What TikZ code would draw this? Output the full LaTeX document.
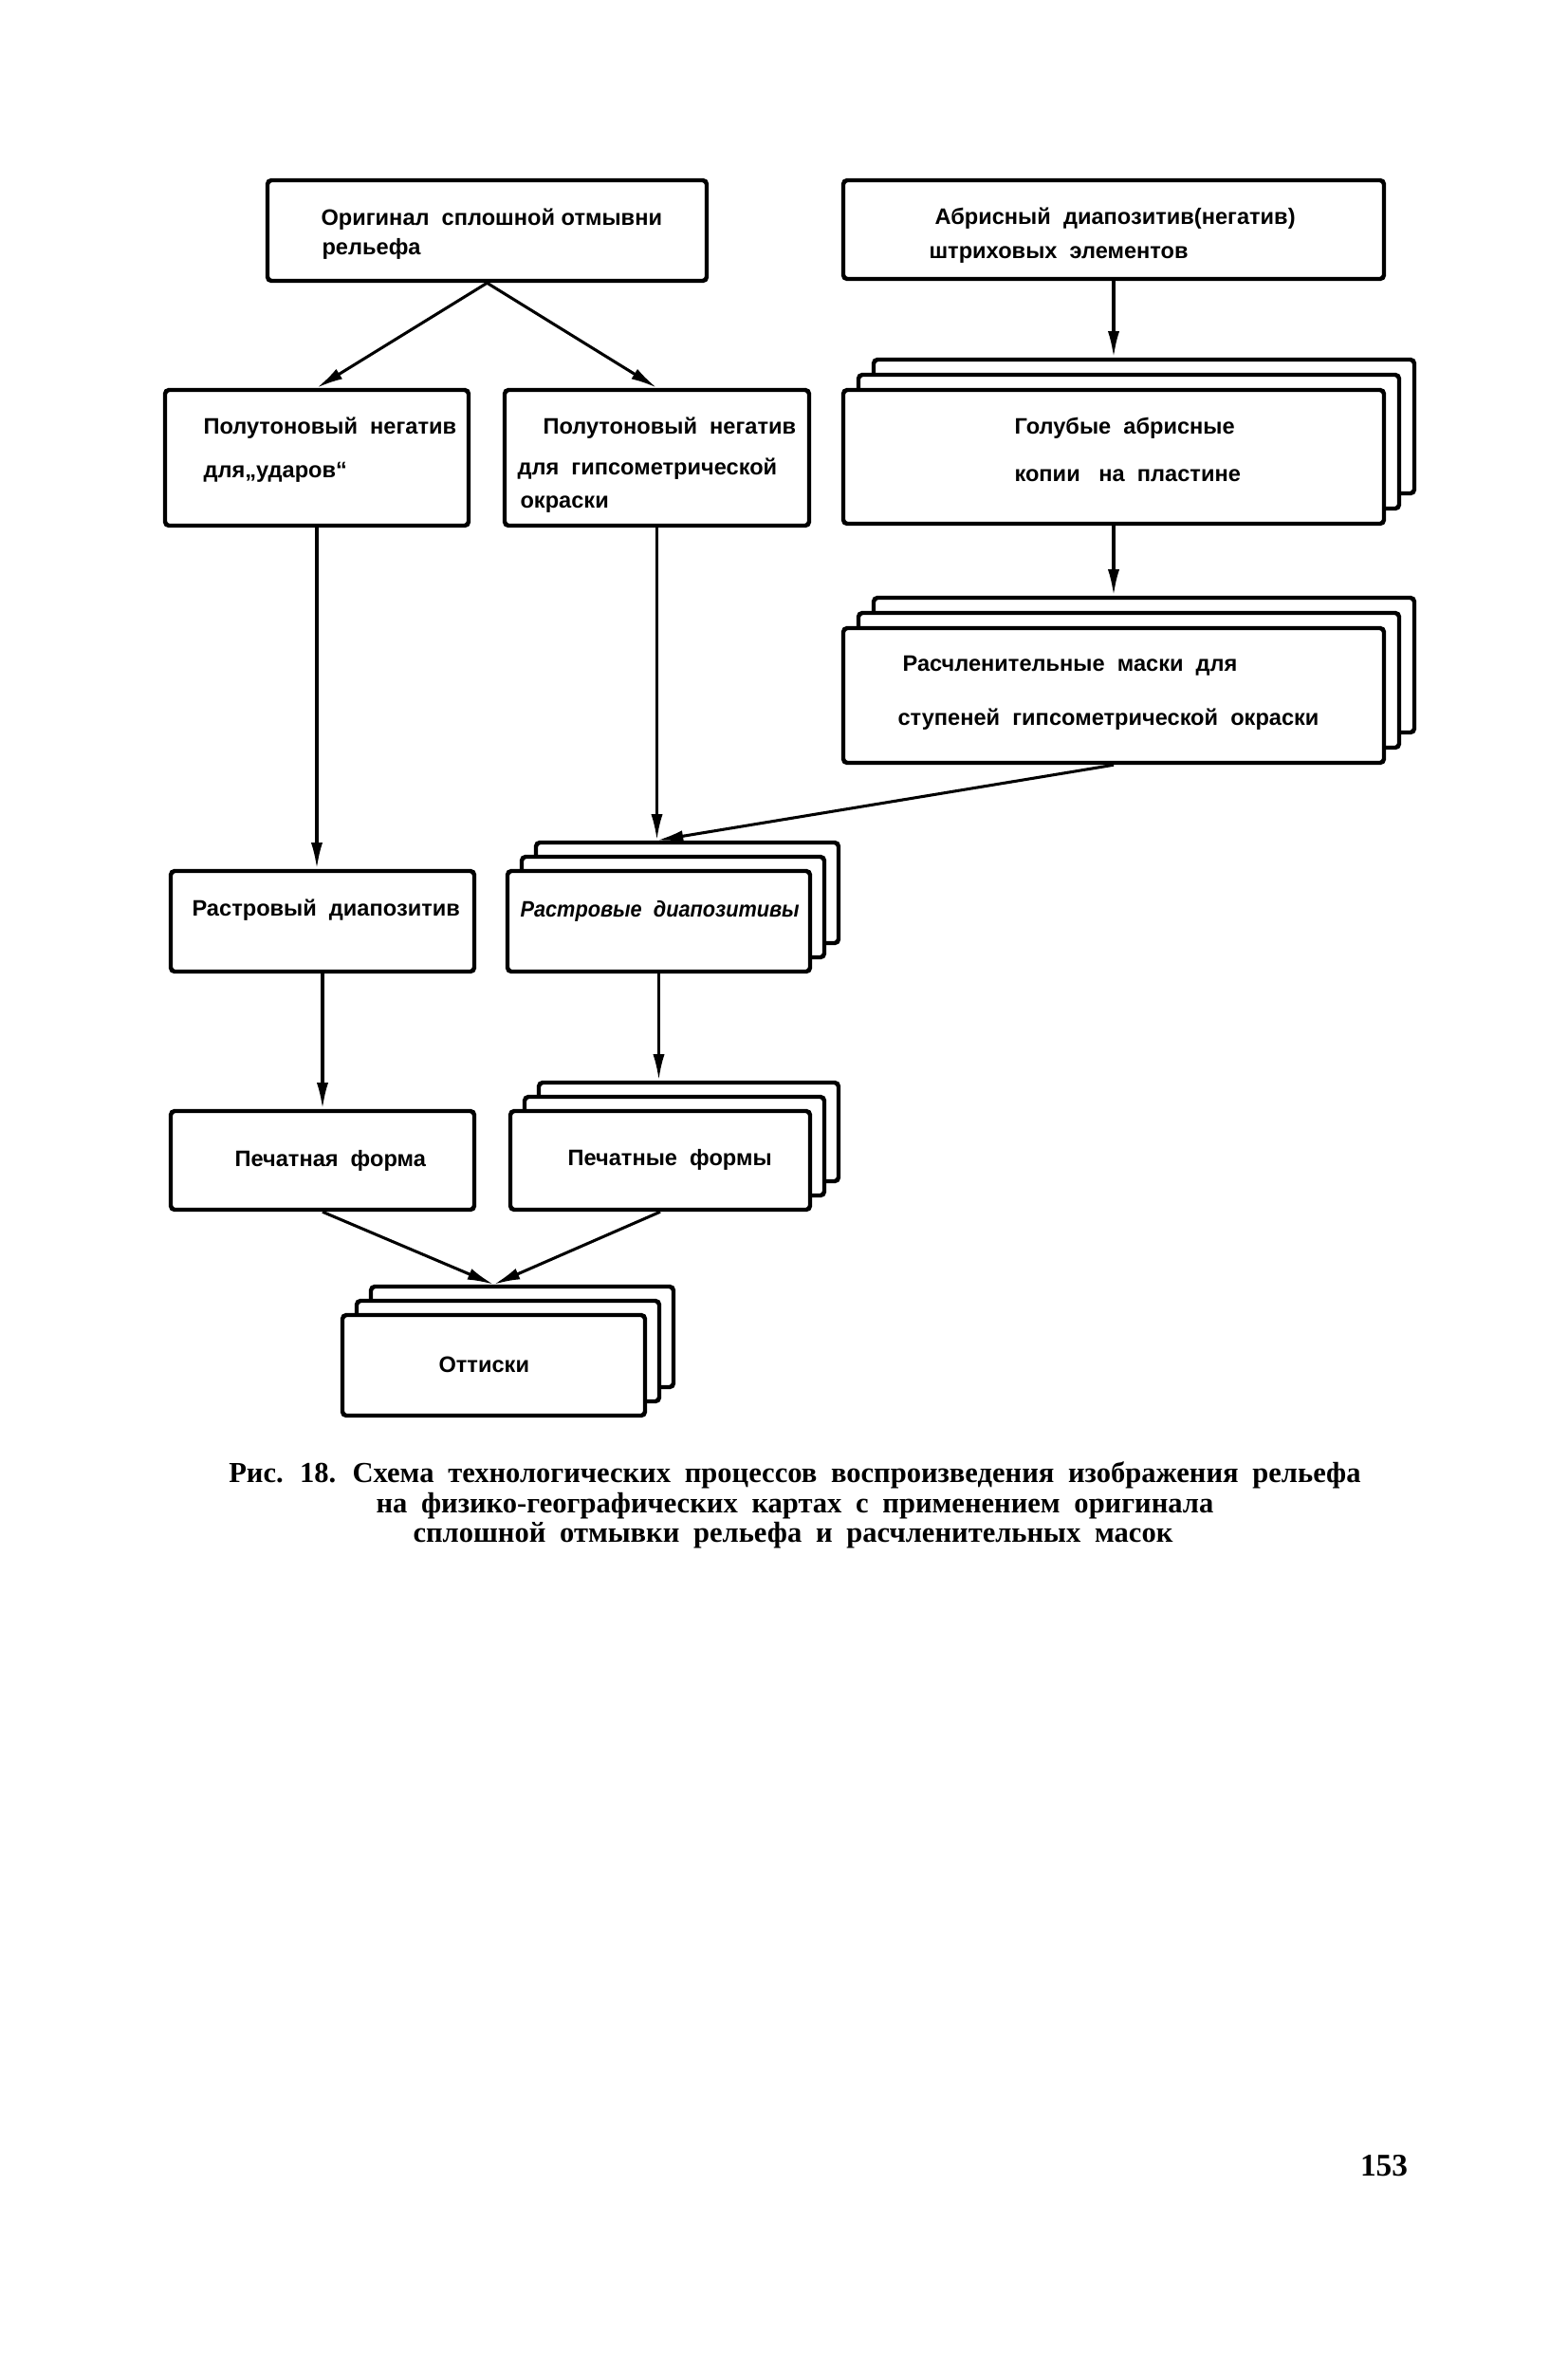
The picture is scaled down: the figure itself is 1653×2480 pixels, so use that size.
\documentclass[tikz,border=0pt]{standalone}
\usepackage{fontspec}
\setmainfont{Liberation Sans}
\newfontfamily\capfont{Liberation Serif}
\newcommand\capspacing{\spaceskip=5.3pt plus 1pt minus 1pt\relax}
\usetikzlibrary{arrows.meta,fit,calc}
\tikzset{
 box/.style={draw, line width=1.6pt, fill=white, rounded corners=1.5pt, inner sep=0pt},
 lbl/.style={anchor=base west, inner sep=0pt, font=\fontsize{8.5}{10}\selectfont\bfseries},
 arr/.style={line width=1.1pt, -{Latex[length=10pt,width=4.4pt]}},
 captext/.style={anchor=base, inner sep=0pt, font=\capfont\bfseries\fontsize{11}{13}\selectfont},
 pnum/.style={anchor=base, inner sep=0pt, font=\capfont\bfseries\fontsize{12}{14}\selectfont}
}
\begin{document}
\begin{tikzpicture}[x=0.36pt,y=-0.36pt]
\useasboundingbox[fill=white] (0,0) rectangle (1653,2480);

% single boxes
\node[box, fit={(282,190)(745,296)}] (A) {};
\node[box, fit={(889,190)(1459,294)}] (D) {};
\node[box, fit={(174,411)(494,554)}] (B) {};
\node[box, fit={(532,411)(853,554)}] (C) {};
\node[box, fit={(180,918)(500,1024)}] (G) {};
\node[box, fit={(180,1171)(500,1275)}] (I) {};

% stack E
\node[box, fit={(921,379)(1491,520)}] (Eb) {};
\node[box, fit={(905,395)(1475,536)}] (Em) {};
\node[box, fit={(889,411)(1459,552)}] (E) {};
% stack F
\node[box, fit={(921,630)(1491,772)}] (Fb) {};
\node[box, fit={(905,646)(1475,788)}] (Fm) {};
\node[box, fit={(889,662)(1459,804)}] (F) {};
% stack H
\node[box, fit={(565,888)(884,994)}] (Hb) {};
\node[box, fit={(550,903)(869,1009)}] (Hm) {};
\node[box, fit={(535,918)(854,1024)}] (H) {};
% stack J
\node[box, fit={(568,1141)(884,1245)}] (Jb) {};
\node[box, fit={(553,1156)(869,1260)}] (Jm) {};
\node[box, fit={(538,1171)(854,1275)}] (J) {};
% stack K
\node[box, fit={(391,1356)(710,1462)}] (Kb) {};
\node[box, fit={(376,1371)(695,1477)}] (Km) {};
\node[box, fit={(361,1386)(680,1492)}] (K) {};

% texts
\node[lbl] (tA1) at (338,237) {Оригинал\ \ сплошной\ отмывни};
\node[lbl] (tA2) at (339,268) {рельефа};
\node[lbl] (tD1) at (985,236) {Абрисный\ \ диапозитив(негатив)};
\node[lbl] (tD2) at (979,272) {штриховых\ \ элементов};
\node[lbl] (tB1) at (214,457) {Полутоновый\ \ негатив};
\node[lbl] (tB2) at (214,503) {для„ударов“};
\node[lbl] (tC1) at (572,457) {Полутоновый\ \ негатив};
\node[lbl] (tC2) at (545,500) {для\ \ гипсометрической};
\node[lbl] (tC3) at (548,535) {окраски};
\node[lbl] (tE1) at (1069,457) {Голубые\ \ абрисные};
\node[lbl] (tE2) at (1069,507) {копии\ \ \ на\ \ пластине};
\node[lbl] (tF1) at (951,707) {Расчленительные\ \ маски\ \ для};
\node[lbl] (tF2) at (946,764) {ступеней\ \ гипсометрической\ \ окраски};
\node[lbl] (tG) at (202,965) {Растровый\ \ диапозитив};
\node[lbl, font=\fontsize{8.5}{10}\selectfont\bfseries\itshape] (tH) at (548,966) {\scalebox{0.92}[1]{Растровые\ \ диапозитивы}};
\node[lbl] (tI) at (247,1229) {Печатная\ \ форма};
\node[lbl] (tJ) at (598,1228) {Печатные\ \ формы};
\node[lbl] (tK) at (462,1446) {Оттиски};

% connectors
\coordinate (kin) at (K.north |- Kb.north);
\draw[arr] (A.south) -- (B.north);
\draw[arr] (A.south) -- (C.north);
\draw[arr] (D.south) -- (D.south |- Eb.north);
\draw[arr] (E.south) -- (E.south |- Fb.north);
\draw[arr] (B.south) -- (B.south |- G.north);
\draw[arr] (C.south) -- (C.south |- Hb.north);
\draw[arr] (F.south) -- (C.south |- Hb.north);
\draw[arr] (G.south) -- (I.north);
\draw[arr] (H.south) -- (H.south |- Jb.north);
\draw[arr] (I.south) -- (kin);
\draw[arr] (J.south) -- (kin);

% caption
\node[captext] (cap1) at (838,1562) {\capspacing Рис. 18. Схема технологических процессов воспроизведения изображения рельефа};
\node[captext] (cap2) at (838,1594) {\capspacing на физико-географических картах с применением оригинала};
\node[captext] (cap3) at (836,1625) {\capspacing сплошной отмывки рельефа и расчленительных масок};
\node[pnum] (pn) at (1459,2293) {153};
\end{tikzpicture}
\end{document}
